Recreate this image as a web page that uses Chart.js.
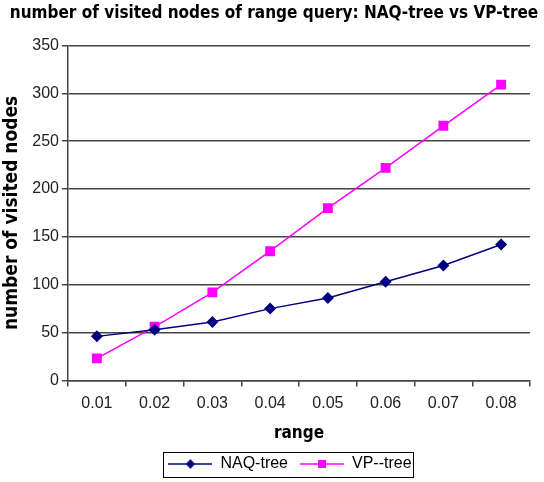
<!DOCTYPE html>
<html lang="en">
<head>
  <meta charset="UTF-8">
  <title>number of visited nodes of range query</title>
  <script src="https://cdn.jsdelivr.net/npm/chart.js"></script>
  <style>
    html, body { margin: 0; padding: 0; background: #fff; }
    #wrap { width: 544px; height: 482px; }
  </style>
</head>
<body>
  <div id="wrap"><canvas id="chart" width="544" height="482"></canvas></div>
  <script>
    // data
    const ranges = ['0.01', '0.02', '0.03', '0.04', '0.05', '0.06', '0.07', '0.08'];
    const naqTree = [46, 53, 61, 75, 86, 103, 120, 142];
    const vpTree = [23, 56, 92, 135, 180, 222, 266, 309];
    const yTicks = [0, 50, 100, 150, 200, 250, 300, 350];

    const NAVY = '#000080';
    const MAGENTA = '#ff00ff';
    const narrow = '"Liberation Sans Narrow", "DejaVu Sans Condensed", "Liberation Sans", Arial, sans-serif';
    const plain = '"Liberation Sans", Arial, sans-serif';

    // small line + marker picture for the legend entries
    function legendSwatch(color, style) {
      const c = document.createElement('canvas');
      c.width = 44; c.height = 12;
      const g = c.getContext('2d');
      g.strokeStyle = color; g.lineWidth = 1.5;
      g.beginPath(); g.moveTo(0, 6); g.lineTo(44, 6); g.stroke();
      g.fillStyle = color;
      if (style === 'diamond') {
        g.beginPath(); g.moveTo(22, 1); g.lineTo(26.5, 6); g.lineTo(22, 11); g.lineTo(17.5, 6); g.closePath(); g.fill();
      } else {
        g.fillRect(18, 2, 8, 8);
      }
      return c;
    }
    const swatches = [legendSwatch(NAVY, 'diamond'), legendSwatch(MAGENTA, 'square')];

    // nudge title and legend a bit right (they centre on the plot in the original),
    // and put a thin box round the legend
    const legendFrame = {
      id: 'legendFrame',
      afterUpdate(chart) {
        const tb = chart.titleBlock;
        tb.left += 9;
        tb.right += 9;
        const lg = chart.legend;
        const tops = lg.legendHitBoxes.map(b => b.top);
        lg.left += 25;
        lg.right += 25;
        lg.adjustHitBoxes();
        lg.legendHitBoxes.forEach((b, i) => { b.top = tops[i]; });
      },
      afterDraw(chart) {
        const boxes = chart.legend.legendHitBoxes;
        if (!boxes || !boxes.length) return;
        const ctx = chart.ctx;
        let x0 = Infinity, x1 = -Infinity, y0 = Infinity, y1 = -Infinity;
        boxes.forEach(b => {
          x0 = Math.min(x0, b.left); x1 = Math.max(x1, b.left + b.width);
          y0 = Math.min(y0, b.top); y1 = Math.max(y1, b.top + b.height);
        });
        ctx.save();
        ctx.strokeStyle = '#000';
        ctx.lineWidth = 1;
        ctx.strokeRect(Math.round(x0 - 5) + 0.5, Math.round(y0 - 4) + 0.5, Math.round(x1 - x0 + 7), Math.round(y1 - y0 + 9));
        ctx.restore();
      }
    };

    new Chart(document.getElementById('chart'), {
      type: 'line',
      data: {
        labels: ranges,
        datasets: [
          {
            label: 'NAQ-tree',
            data: naqTree,
            borderColor: NAVY,
            backgroundColor: NAVY,
            borderWidth: 1.5,
            pointStyle: 'rectRot',
            pointRadius: 6,
            pointBorderWidth: 0,
            tension: 0
          },
          {
            label: 'VP--tree',
            data: vpTree,
            borderColor: MAGENTA,
            backgroundColor: MAGENTA,
            borderWidth: 1.5,
            pointStyle: 'rect',
            pointRadius: 7,
            pointBorderWidth: 0,
            tension: 0
          }
        ]
      },
      options: {
        responsive: false,
        animation: false,
        devicePixelRatio: 1,
        layout: { padding: { left: 0, right: 14, top: 0, bottom: 0 } },
        plugins: {
          title: {
            display: true,
            text: 'number of visited nodes of range query: NAQ-tree vs VP-tree',
            color: '#000',
            font: { family: narrow, size: 17, weight: 'bold' },
            padding: { top: 3, bottom: 22 }
          },
          legend: {
            position: 'bottom',
            labels: {
              usePointStyle: true,
              pointStyleWidth: 44,
              color: '#000',
              padding: 12,
              font: { family: plain, size: 16 },
              generateLabels(chart) {
                return chart.data.datasets.map((ds, i) => ({
                  text: ds.label,
                  pointStyle: swatches[i],
                  fillStyle: ds.borderColor,
                  strokeStyle: ds.borderColor,
                  lineWidth: 0,
                  datasetIndex: i,
                  fontColor: '#000'
                }));
              }
            }
          },
          tooltip: { enabled: false }
        },
        scales: {
          x: {
            offset: true,
            grid: {
              offset: true,
              drawOnChartArea: true,
              color: ctx => (ctx.index === ranges.length ? '#444' : 'rgba(0,0,0,0)'),
              tickColor: '#444',
              tickLength: 6,
              lineWidth: 1.5
            },
            border: { display: true, color: '#444', width: 1.5 },
            ticks: { color: '#222', font: { family: plain, size: 16 }, padding: 8, maxRotation: 0 },
            title: {
              display: true,
              text: 'range',
              color: '#000',
              font: { family: narrow, size: 17, weight: 'bold' },
              padding: { top: 2, bottom: 0 }
            }
          },
          y: {
            min: 0,
            max: 350,
            afterBuildTicks(scale) { scale.ticks = yTicks.map(v => ({ value: v })); },
            grid: { color: '#444', lineWidth: 1.5, tickLength: 6, tickColor: '#444' },
            border: { display: true, color: '#444', width: 1.5 },
            ticks: { color: '#222', font: { family: plain, size: 16 }, padding: 3 },
            title: {
              display: true,
              text: 'number of visited nodes',
              color: '#000',
              font: { family: narrow, size: 19, weight: 'bold' },
              padding: { top: 1, bottom: 4 }
            },
            afterFit(scale) { scale.width = 68; }
          }
        }
      },
      plugins: [legendFrame]
    });
  </script>
</body>
</html>
